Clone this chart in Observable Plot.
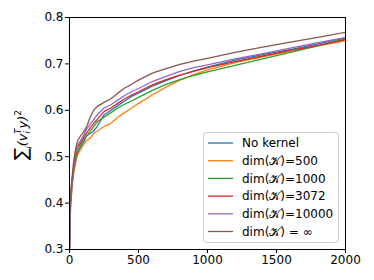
<!DOCTYPE html>
<html>
<head>
<meta charset="utf-8">
<script src="https://cdn.jsdelivr.net/npm/d3@7"></script>
<script src="https://cdn.jsdelivr.net/npm/@observablehq/plot@0.6"></script>
<style>
body { margin: 0; background: #fff; }
</style>
</head>
<body>
<div id="chart"></div>
<script>
const steps = [0,2,5,10,20,30,40,50,60,80,100,125,150,175,200,250,300,350,400,450,500,600,700,800,900,1000,1200,1400,1600,1800,2000];
const seriesNames = ["No kernel","dim(𝒦)=500","dim(𝒦)=1000","dim(𝒦)=3072","dim(𝒦)=10000","dim(𝒦) = ∞"];
const seriesColors = ["#1f77b4","#ff7f0e","#2ca02c","#d62728","#9467bd","#8c564b"];
const noKernel = [0.30,0.33,0.37,0.40,0.44,0.47,0.485,0.50,0.51,0.52,0.53,0.545,0.55,0.555,0.565,0.59,0.60,0.61,0.62,0.63,0.637,0.652,0.664,0.675,0.685,0.693,0.708,0.72,0.731,0.743,0.756];
const dim500 = [0.30,0.34,0.38,0.41,0.44,0.465,0.48,0.495,0.505,0.515,0.525,0.535,0.54,0.55,0.555,0.565,0.572,0.585,0.595,0.605,0.615,0.633,0.650,0.665,0.677,0.687,0.703,0.715,0.727,0.739,0.750];
const dim1000 = [0.30,0.35,0.39,0.42,0.45,0.47,0.485,0.50,0.51,0.525,0.535,0.545,0.555,0.565,0.575,0.585,0.595,0.605,0.613,0.62,0.628,0.643,0.656,0.666,0.675,0.683,0.697,0.711,0.725,0.739,0.754];
const dim3072 = [0.30,0.35,0.39,0.42,0.45,0.475,0.495,0.51,0.52,0.53,0.54,0.552,0.562,0.572,0.58,0.597,0.605,0.615,0.625,0.633,0.64,0.655,0.666,0.676,0.684,0.692,0.705,0.717,0.729,0.74,0.752];
const dim10000 = [0.30,0.35,0.39,0.42,0.45,0.48,0.50,0.515,0.525,0.535,0.545,0.56,0.57,0.58,0.59,0.605,0.612,0.622,0.632,0.64,0.647,0.662,0.673,0.684,0.692,0.698,0.711,0.722,0.734,0.746,0.757];
const dimInf = [0.30,0.36,0.40,0.43,0.46,0.49,0.51,0.525,0.535,0.545,0.553,0.565,0.585,0.60,0.608,0.617,0.625,0.637,0.648,0.656,0.665,0.680,0.690,0.699,0.706,0.712,0.725,0.736,0.747,0.757,0.768];
const xTicks = [0,500,1000,1500,2000];
const yTicks = [0.3,0.4,0.5,0.6,0.7,0.8];

const allSeries = [noKernel, dim500, dim1000, dim3072, dim10000, dimInf];
const rows = [];
allSeries.forEach((vals, si) => {
  vals.forEach((v, i) => rows.push({series: seriesNames[si], x: steps[i], y: v}));
});

const W = 374, H = 280;
const mL = 69, mR = 29, mT = 17, mB = 31;

const plot = Plot.plot({
  width: W, height: H,
  marginLeft: mL, marginRight: mR, marginTop: mT, marginBottom: mB,
  style: {fontFamily: "DejaVu Sans", fontSize: "12px", color: "black", background: "white"},
  x: {domain: [0,2000], label: null},
  y: {domain: [0.3,0.8], label: null},
  color: {domain: seriesNames, range: seriesColors},
  marks: [
    Plot.line(rows, {x: "x", y: "y", z: "series", stroke: "series", strokeWidth: 1.3, clip: true}),
    Plot.frame({stroke: "black", strokeWidth: 1}),
    Plot.axisX({ticks: xTicks, tickFormat: d => String(d), tickSize: 4, tickPadding: 2, fontSize: 12, label: null}),
    Plot.axisY({ticks: yTicks, tickFormat: d => d.toFixed(1), tickSize: 4, tickPadding: 2, fontSize: 12, label: null})
  ]
});
document.getElementById("chart").appendChild(plot);

const svg = d3.select(plot);
// y label
const yl = svg.append("text")
  .attr("transform", "translate(27,135) rotate(-90)")
  .attr("text-anchor", "middle")
  .attr("font-family", "DejaVu Sans")
  .attr("font-size", 13)
  .attr("fill", "black");
yl.append("tspan").attr("font-size", 18).text("∑");
yl.append("tspan").attr("font-size", 9).attr("dy", 5).attr("dx", -1).attr("font-style", "italic").text("i");
yl.append("tspan").attr("dy", -5).attr("font-style", "italic").text("(v");
yl.append("tspan").attr("font-size", 9).attr("dy", 3).attr("font-style", "italic").text("i");
yl.append("tspan").attr("font-size", 9).attr("dy", -9).attr("dx", -3).attr("font-style", "italic").text("T");
yl.append("tspan").attr("dy", 6).attr("font-style", "italic").text("y)");
yl.append("tspan").attr("font-size", 9).attr("dy", -6).text("2");

// legend
const lg = svg.append("g").attr("text-anchor", "start");
lg.append("rect").attr("x", 203.5).attr("y", 132.5).attr("width", 135).attr("height", 110)
  .attr("rx", 3).attr("fill", "white").attr("fill-opacity", 0.8).attr("stroke", "#cccccc");
seriesNames.forEach((name, i) => {
  const yy = 143 + i * 17.7;
  lg.append("line").attr("x1", 208).attr("x2", 233).attr("y1", yy).attr("y2", yy)
    .attr("stroke", seriesColors[i]).attr("stroke-width", 1.3);
  lg.append("text").attr("x", 242).attr("y", yy).attr("dy", "0.35em")
    .attr("text-anchor", "start")
    .attr("font-family", "DejaVu Sans").attr("font-size", 12).attr("fill", "black").text(name);
});
</script>
</body>
</html>
